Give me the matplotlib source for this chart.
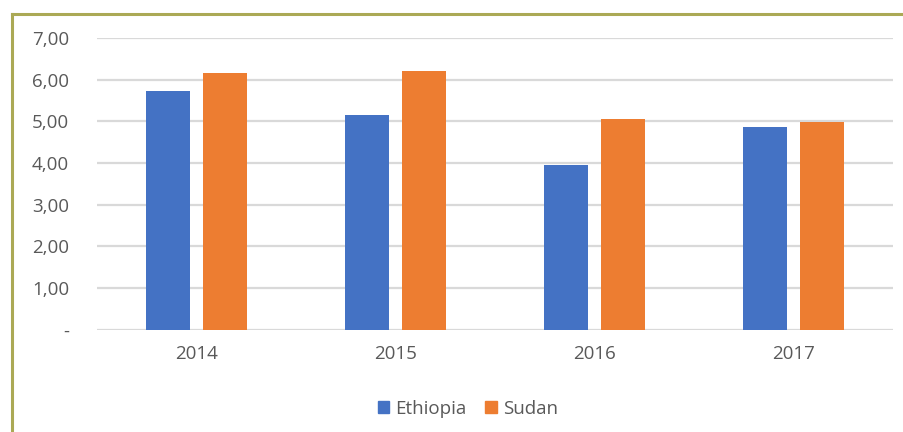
import matplotlib
matplotlib.use('Agg')
import matplotlib.pyplot as plt
import matplotlib.patches as mpatches
from matplotlib.lines import Line2D
import numpy as np

# values per year
years = ['2014', '2015', '2016', '2017']
ethiopia = [5.73, 5.14, 3.94, 4.86]
sudan = [6.16, 6.21, 5.05, 4.99]
yticks = [0, 1, 2, 3, 4, 5, 6, 7]
ytick_labels = ['-', '1,00', '2,00', '3,00', '4,00', '5,00', '6,00', '7,00']

blue = '#4472C4'
orange = '#ED7D31'
grey_text = '#595959'

plt.rcParams['font.family'] = ['Open Sans', 'DejaVu Sans']

fig = plt.figure(figsize=(9.04, 4.32), dpi=100)
ax = fig.add_axes([97 / 904, (432 - 329.5) / 432, 796 / 904, 291.5 / 432])

x = np.arange(len(years))
w = 0.222
ax.bar(x - 0.144, ethiopia, w, color=blue, zorder=3)
ax.bar(x + 0.144, sudan, w, color=orange, zorder=3)

ax.set_xlim(-0.5, len(years) - 0.5)
ax.set_ylim(0, 7)
ax.set_yticks(yticks)
ax.set_yticklabels(ytick_labels)
ax.set_xticks(x)
ax.set_xticklabels(years)
ax.yaxis.grid(True, color='#D9D9D9', linewidth=1.6, zorder=0)
ax.set_axisbelow(True)
for s in ax.spines.values():
    s.set_visible(False)
ax.tick_params(axis='y', length=0, pad=20, labelsize=13.5, labelcolor=grey_text)
ax.tick_params(axis='x', length=0, pad=11, labelsize=13.5, labelcolor=grey_text)

# legend below the plot
handles = [mpatches.Patch(color=blue, label='Ethiopia'),
           mpatches.Patch(color=orange, label='Sudan')]
leg = fig.legend(handles=handles, loc='center', bbox_to_anchor=(468 / 904, 1 - 409 / 432),
                 ncol=2, frameon=False, fontsize=13.5, handlelength=0.6,
                 handleheight=0.6, handletextpad=0.35, columnspacing=1.0)
for t in leg.get_texts():
    t.set_color(grey_text)

# olive frame on the top and left edges
border = '#ABA955'
fig.add_artist(Line2D([12 / 904, 1], [1 - 14 / 432, 1 - 14 / 432], color=border,
                      linewidth=2.2, transform=fig.transFigure))
fig.add_artist(Line2D([12 / 904, 12 / 904], [0, 1 - 14 / 432], color=border,
                      linewidth=2.2, transform=fig.transFigure))

fig.savefig('out.png', dpi=100)
